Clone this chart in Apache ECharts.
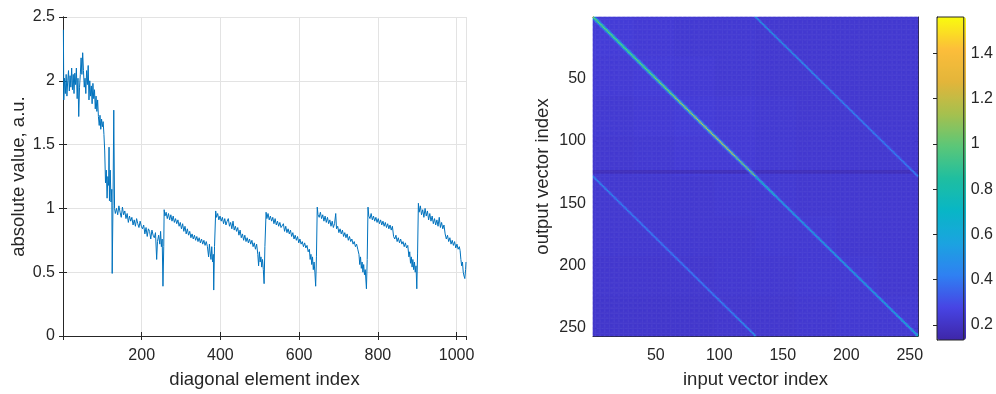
<!DOCTYPE html>
<html><head><meta charset="utf-8">
<script src="https://cdn.jsdelivr.net/npm/echarts@6.0.0/dist/echarts.min.js"></script>
<style>html,body{margin:0;padding:0;background:#fff}#c{width:996px;height:394px}</style>
</head><body><div id="c"></div>
<script>
// ---------- left panel: |diagonal element| vs index ----------
const lineIdx = [1,2,4,6,8,10,12,14,16,18,20,22,24,26,28,30,32,34,36,38,40,42,44,46,48,50,52,54,56,58,60,62,64,66,68,70,72,74,76,78,80,82,84,86,88,90,92,94,96,98,100,102,104,106,108,110,112,114,116,117,118,120,122,124,125,127,129,131,
133,136,139,142,145,148,151,154,157,160,163,166,169,172,175,178,181,184,187,190,193,196,199,202,205,208,211,214,217,220,223,226,229,232,235,238,240,243,246,248,250,252,254,256,257,
259,262,265,268,271,274,277,280,283,286,289,292,295,298,301,304,307,310,313,316,319,322,325,328,331,334,337,340,343,346,349,352,355,358,361,364,367,370,372,374,376,378,380,382,383,385,388,
390,393,396,399,402,405,408,411,414,417,420,423,426,429,432,435,438,441,444,447,450,453,456,459,462,465,468,471,474,477,480,483,486,489,492,495,497,499,501,503,505,507,509,511,513,516,
518,521,524,527,530,533,536,539,542,545,548,551,554,557,560,563,566,569,572,575,578,581,584,587,590,593,596,599,602,605,608,611,614,617,620,623,626,628,630,632,634,636,638,640,642,644,646,
648,651,654,657,660,663,666,669,672,675,678,681,684,687,690,693,695,698,701,704,707,710,713,716,719,722,725,728,731,734,737,740,743,746,749,752,754,756,758,760,762,764,766,768,771,773,775,
777,780,783,786,789,792,795,798,801,804,807,810,813,816,819,822,825,828,831,834,837,840,843,846,849,852,855,858,861,864,867,870,873,876,879,881,883,885,887,889,891,893,895,897,899,901,903,
905,908,911,914,917,920,923,926,929,932,935,938,941,944,947,950,953,956,959,962,965,968,971,974,977,980,983,986,989,992,995,998,1001,1004,1007,1009,1011,1013,1015,1017,1019,1021,1023,1024];
const lineVal = [2.40,1.85,2.02,1.90,2.05,1.88,2.00,2.08,1.92,2.04,1.95,2.10,1.93,2.05,1.90,2.06,1.97,2.10,1.86,2.02,1.72,1.95,2.05,2.18,2.05,2.22,2.08,1.95,2.02,1.90,2.08,1.97,2.12,1.85,2.00,1.88,1.96,1.82,1.98,1.86,1.93,1.78,1.88,1.76,1.85,1.72,1.65,1.73,1.62,1.70,1.64,1.68,1.58,1.45,1.20,1.30,1.08,1.25,1.18,1.48,1.06,1.30,1.05,1.15,0.49,1.02,1.77,1.00,
0.96,1.00,0.95,1.02,0.97,0.93,1.01,0.95,0.98,0.92,0.96,0.89,0.94,0.90,0.93,0.87,0.91,0.86,0.92,0.88,0.85,0.90,0.86,0.84,0.87,0.80,0.85,0.78,0.84,0.82,0.76,0.83,0.79,0.77,0.81,0.60,0.74,0.79,0.72,0.82,0.70,0.76,0.39,0.70,0.99,
0.94,0.97,0.92,0.96,0.91,0.95,0.90,0.94,0.89,0.92,0.88,0.91,0.86,0.89,0.84,0.88,0.82,0.86,0.80,0.84,0.79,0.82,0.77,0.80,0.76,0.79,0.75,0.78,0.74,0.77,0.73,0.76,0.72,0.75,0.71,0.74,0.70,0.62,0.72,0.65,0.60,0.70,0.58,0.64,0.36,0.70,0.98,
0.93,0.96,0.91,0.94,0.90,0.93,0.88,0.92,0.87,0.90,0.92,0.86,0.89,0.84,0.90,0.83,0.86,0.82,0.85,0.79,0.83,0.77,0.80,0.75,0.79,0.74,0.77,0.73,0.76,0.72,0.75,0.70,0.73,0.68,0.72,0.64,0.55,0.66,0.58,0.62,0.54,0.60,0.52,0.41,0.70,0.97,
0.92,0.96,0.91,0.94,0.90,0.93,0.88,0.92,0.87,0.90,0.86,0.89,0.85,0.84,0.88,0.82,0.86,0.81,0.84,0.80,0.83,0.78,0.81,0.76,0.79,0.75,0.78,0.73,0.76,0.72,0.74,0.70,0.73,0.69,0.71,0.66,0.68,0.60,0.64,0.56,0.62,0.52,0.58,0.50,0.39,0.62,1.01,
0.95,0.93,0.97,0.92,0.95,0.90,0.94,0.89,0.93,0.88,0.91,0.86,0.90,0.85,0.88,0.96,0.84,0.86,0.81,0.84,0.80,0.83,0.78,0.81,0.77,0.80,0.75,0.78,0.74,0.76,0.72,0.74,0.70,0.72,0.68,0.64,0.56,0.62,0.53,0.58,0.50,0.56,0.48,0.52,0.37,0.60,1.01,
0.94,0.92,0.96,0.91,0.94,0.90,0.93,0.89,0.92,0.88,0.91,0.87,0.90,0.86,0.89,0.85,0.88,0.84,0.87,0.83,0.86,0.78,0.76,0.79,0.74,0.77,0.73,0.76,0.72,0.74,0.70,0.73,0.69,0.71,0.62,0.66,0.57,0.62,0.54,0.60,0.52,0.58,0.50,0.55,0.37,0.65,1.04,
0.97,1.02,0.95,0.99,0.93,1.00,0.94,0.98,0.91,0.96,0.90,0.94,0.88,0.92,0.87,0.91,0.86,0.93,0.85,0.89,0.84,0.87,0.80,0.76,0.79,0.74,0.77,0.72,0.75,0.71,0.74,0.69,0.72,0.68,0.70,0.67,0.60,0.55,0.58,0.50,0.47,0.45,0.52,0.58];
const leftXTicks = [200,400,600,800,1000];

// ---------- right panel: 256x256 magnitude map ----------
const heatN = 256;
// background level per 32x32 block (rows = output index, cols = input index)
const bgBlocks = [
  [0.245,0.24,0.235,0.235,0.23,0.23,0.23,0.23],
  [0.24,0.245,0.24,0.235,0.23,0.23,0.23,0.23],
  [0.235,0.24,0.245,0.24,0.235,0.23,0.23,0.23],
  [0.23,0.235,0.24,0.24,0.235,0.23,0.23,0.23],
  [0.23,0.23,0.23,0.235,0.235,0.23,0.23,0.23],
  [0.23,0.23,0.23,0.23,0.235,0.235,0.23,0.23],
  [0.225,0.225,0.225,0.23,0.23,0.235,0.235,0.23],
  [0.22,0.22,0.22,0.225,0.225,0.23,0.235,0.235]
];
const darkRows = [124,125,126];
const darkVal = 0.18;
// main diagonal, per 16 rows
const diagVals = [1.05,1.02,1.05,1.12,1.22,1.30,1.28,1.10,0.78,0.64,0.64,0.65,0.66,0.66,0.68,0.72];
const diagHalo = [0.70,0.68,0.66,0.64,0.60,0.58,0.55,0.48,0.40,0.35,0.34,0.34,0.34,0.34,0.35,0.37];
const diagHalo2 = [0.36,0.36,0.35,0.35,0.34,0.33,0.32,0.30,0.26,0.24,0.24,0.24,0.24,0.24,0.24,0.24];
// off diagonals (col = row + 128 and col = row - 128), per 16 rows
const offUpper = [0.62,0.60,0.56,0.52,0.50,0.48,0.47,0.46];
const offLower = [0.52,0.48,0.46,0.45,0.45,0.46,0.50,0.56];
const offHalo = 0.30;
const heatTicks = [50,100,150,200,250];
const cMin = 0.134, cMax = 1.56;
const cbTicks = [0.2,0.4,0.6,0.8,1.0,1.2,1.4];
const parula = ['#3e26a8','#4744e4','#2f80f2','#1ba3e0','#08b6c6','#1fbea0','#5bc778','#a6c04e','#e3b53a','#fcbe3a','#f9fb0e'];

// ---------- build ----------
const cats = Array.from({length: heatN}, (_, k) => String(k + 1));
const heat = [];
for (let r = 0; r < heatN; r++) {
  for (let c = 0; c < heatN; c++) {
    let v = bgBlocks[r >> 5][c >> 5];
    if (darkRows.includes(r + 1)) v = darkVal;
    const d = c - r;
    if (d === 0) v = diagVals[r >> 4];
    else if (Math.abs(d) === 1) v = diagHalo[r >> 4];
    else if (Math.abs(d) === 2) v = Math.max(v, diagHalo2[r >> 4]);
    else if (d === 128) v = offUpper[r >> 4];
    else if (d === -128) v = offLower[(r - 128) >> 4];
    else if (d === 127 || d === 129 || d === -127 || d === -129) v = Math.max(v, offHalo);
    heat.push([c, r, v]);
  }
}
const lineData = lineIdx.map((x, i) => [x, lineVal[i]]);

const font = 'Liberation Sans, Arial, sans-serif';
const ax = '#262626';
const tickFont = {color: ax, fontSize: 16, fontFamily: font};
const nameFont = {color: ax, fontSize: 18.5, fontFamily: font};
const catInt = (i) => heatTicks.includes(i + 1);

const chart = echarts.init(document.getElementById('c'));
chart.setOption({
  animation: false,
  textStyle: {fontFamily: font},
  grid: [
    {left: 63, top: 17, width: 403, height: 323},
    {left: 593, top: 17, width: 325, height: 323},
    {left: 937, top: 17, width: 29, height: 323, show: true, z: 10, borderColor: ax, borderWidth: 1, backgroundColor: 'transparent'}
  ],
  xAxis: [
    {gridIndex: 0, type: 'value', min: 0, max: 1024, interval: 200,
     axisLine: {lineStyle: {color: ax}}, axisTick: {inside: true, length: 4, lineStyle: {color: ax}},
     axisLabel: {...tickFont, margin: 12, showMaxLabel: false, formatter: v => (leftXTicks.includes(v) ? String(v) : '')},
     splitLine: {show: true, lineStyle: {color: '#e3e3e3'}},
     name: 'diagonal element index', nameLocation: 'middle', nameGap: 34, nameTextStyle: nameFont},
    {gridIndex: 0, type: 'value', position: 'top', min: 0, max: 1024, interval: 200,
     axisLine: {lineStyle: {color: ax}}, axisTick: {inside: true, length: 4, lineStyle: {color: ax}},
     axisLabel: {show: false}, splitLine: {show: false}},
    {gridIndex: 1, type: 'category', data: cats,
     axisLine: {lineStyle: {color: ax}}, axisTick: {inside: true, length: 4, alignWithLabel: true, interval: catInt, lineStyle: {color: ax}},
     axisLabel: {...tickFont, margin: 12, interval: catInt}, splitLine: {show: false},
     name: 'input vector index', nameLocation: 'middle', nameGap: 34, nameTextStyle: nameFont},
    {gridIndex: 1, type: 'category', data: cats, position: 'top',
     axisLine: {lineStyle: {color: ax}}, axisTick: {inside: true, length: 4, alignWithLabel: true, interval: catInt, lineStyle: {color: ax}},
     axisLabel: {show: false}, splitLine: {show: false}},
    {gridIndex: 2, type: 'value', min: 0, max: 1, show: false}
  ],
  yAxis: [
    {gridIndex: 0, type: 'value', min: 0, max: 2.5, interval: 0.5,
     axisLine: {show: true, lineStyle: {color: ax}}, axisTick: {show: true, inside: true, length: 4, lineStyle: {color: ax}},
     axisLabel: {...tickFont, margin: 8}, splitLine: {show: true, lineStyle: {color: '#e3e3e3'}},
     name: 'absolute value, a.u.', nameLocation: 'middle', nameGap: 35, nameTextStyle: nameFont},
    {gridIndex: 0, type: 'value', position: 'right', min: 0, max: 2.5, interval: 0.5,
     axisLine: {show: true, lineStyle: {color: ax}}, axisTick: {show: true, inside: true, length: 4, lineStyle: {color: ax}},
     axisLabel: {show: false}, splitLine: {show: false}},
    {gridIndex: 1, type: 'category', data: cats, inverse: true,
     axisLine: {show: true, lineStyle: {color: ax}}, axisTick: {show: true, inside: true, length: 4, alignWithLabel: true, interval: catInt, lineStyle: {color: ax}},
     axisLabel: {...tickFont, margin: 7, interval: catInt}, splitLine: {show: false},
     name: 'output vector index', nameLocation: 'middle', nameGap: 41, nameTextStyle: nameFont},
    {gridIndex: 1, type: 'category', data: cats, inverse: true, position: 'right',
     axisLine: {show: true, lineStyle: {color: ax}}, axisTick: {show: true, inside: true, length: 4, alignWithLabel: true, interval: catInt, lineStyle: {color: ax}},
     axisLabel: {show: false}, splitLine: {show: false}},
    {gridIndex: 2, type: 'value', min: cMin, max: cMax, position: 'right',
     axisLine: {show: true, lineStyle: {color: ax}},
     axisTick: {show: true, inside: true, length: 4, customValues: cbTicks, lineStyle: {color: ax}},
     axisLabel: {...tickFont, margin: 7, customValues: cbTicks, formatter: v => String(+v.toFixed(1))},
     splitLine: {show: false}}
  ],
  visualMap: {
    type: 'continuous', min: cMin, max: cMax, seriesIndex: 1, dimension: 2,
    inRange: {color: parula}, calculable: false, hoverLink: false,
    itemWidth: 29, itemHeight: 323, left: 937, top: 17, padding: 0, orient: 'vertical', text: null
  },
  series: [
    {type: 'line', xAxisIndex: 0, yAxisIndex: 0, data: lineData, showSymbol: false, symbol: 'none',
     lineStyle: {width: 1, color: '#0072bd'}, itemStyle: {color: '#0072bd'}, silent: true},
    {type: 'heatmap', xAxisIndex: 2, yAxisIndex: 2, data: heat, progressive: 0, silent: true,
     itemStyle: {borderWidth: 0}, emphasis: {disabled: true}}
  ]
});
</script>
</body></html>
